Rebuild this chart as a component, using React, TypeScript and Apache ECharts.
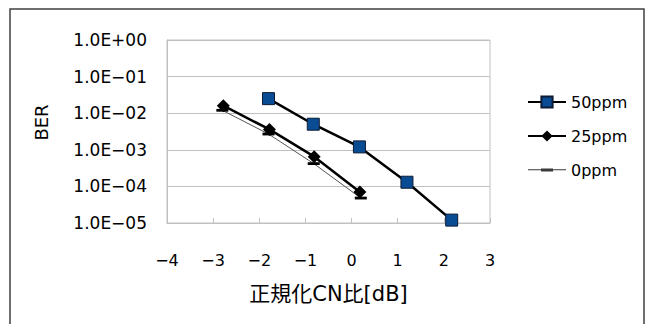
import React, { useEffect, useRef } from "react";
import * as echarts from "echarts";

// Normalized C/N [dB] and BER for each frequency-offset condition
const cn50ppm = [-1.8, -0.83, 0.17, 1.2, 2.17];
const ber50ppm = [2.5e-2, 5.0e-3, 1.2e-3, 1.3e-4, 1.2e-5];

const cn25ppm = [-2.78, -1.78, -0.81, 0.18];
const ber25ppm = [1.6e-2, 3.6e-3, 6.5e-4, 7.0e-5];

const cn0ppm = [-2.8, -1.8, -0.82, 0.2];
const ber0ppm = [1.2e-2, 2.7e-3, 4.2e-4, 4.8e-5];

const seriesNames = ["50ppm", "25ppm", "0ppm"];

const xTickLabels = ["\u22124", "\u22123", "\u22122", "\u22121", "0", "1", "2", "3"];
const yTickLabels = ["1.0E+00", "1.0E\u221201", "1.0E\u221202", "1.0E\u221203", "1.0E\u221204", "1.0E\u221205"];

const xAxisTitle = "正規化CN比[dB]";
const yAxisTitle = "BER";

const FONT = "'DejaVu Sans', 'Noto Sans CJK JP', sans-serif";

// Legend glyph for the dash-marker series: a thin line with a short bar in the middle
const DASH_LEGEND_ICON = "path://M0,6.5H38V7.5H0Z M13,5.8H25V8.6H13Z";

const pairs = (xs: number[], ys: number[]) => xs.map((x, i) => [x, ys[i]]);

export default function App() {
  const ref = useRef<HTMLDivElement>(null);

  useEffect(() => {
    if (!ref.current) return;
    const chart = echarts.init(ref.current, undefined, { renderer: "svg" });
    chart.setOption({
      animation: false,
      backgroundColor: "#ffffff",
      graphic: [
        {
          type: "rect",
          shape: { x: 10, y: 9, width: 634, height: 340 },
          style: { fill: "none", stroke: "#404040", lineWidth: 1.5 },
          silent: true,
        },
      ],
      grid: {
        left: 167,
        right: 160,
        top: 40,
        bottom: 101,
        show: true,
        borderColor: "#c0c0c0",
        borderWidth: 1,
      },
      legend: {
        orient: "vertical",
        left: 522,
        top: 89,
        itemWidth: 38,
        itemHeight: 14,
        itemGap: 18,
        data: [
          { name: seriesNames[0] },
          { name: seriesNames[1] },
          { name: seriesNames[2], icon: DASH_LEGEND_ICON, itemStyle: { color: "#3a3a3a" } },
        ],
        textStyle: { fontFamily: FONT, fontSize: 16, color: "#000", lineHeight: 16 },
      },
      xAxis: {
        type: "value",
        min: -4,
        max: 3,
        interval: 1,
        name: xAxisTitle,
        nameLocation: "middle",
        nameGap: 60,
        nameTextStyle: { fontFamily: FONT, fontSize: 21, color: "#000" },
        axisLine: { show: true, onZero: false, lineStyle: { color: "#c0c0c0", width: 1 } },
        axisTick: { show: true, inside: true, length: 5, lineStyle: { color: "#c0c0c0" } },
        splitLine: { show: false },
        axisLabel: {
          margin: 29,
          fontFamily: FONT,
          fontSize: 16,
          color: "#000",
          formatter: (v: number) => xTickLabels[Math.round(v) + 4],
        },
      },
      yAxis: {
        type: "log",
        logBase: 10,
        min: 1e-5,
        max: 1,
        name: yAxisTitle,
        nameLocation: "middle",
        nameGap: 117,
        nameTextStyle: { fontFamily: FONT, fontSize: 18, color: "#000", padding: [0, 0, 0, 18] },
        axisLine: { show: true, onZero: false, lineStyle: { color: "#c0c0c0", width: 1 } },
        axisTick: { show: false },
        splitLine: { show: true, lineStyle: { color: "#c0c0c0", width: 1 } },
        axisLabel: {
          margin: 20,
          fontFamily: FONT,
          fontSize: 17,
          color: "#000",
          padding: [6, 0, 0, 0],
          formatter: (v: number) => yTickLabels[Math.round(-Math.log10(v))],
        },
      },
      series: [
        {
          name: seriesNames[0],
          type: "line",
          data: pairs(cn50ppm, ber50ppm),
          symbol: "rect",
          symbolSize: 12,
          lineStyle: { color: "#000", width: 2.5 },
          itemStyle: { color: "#0a4c94", borderColor: "#0d1b33", borderWidth: 1 },
          z: 3,
        },
        {
          name: seriesNames[1],
          type: "line",
          data: pairs(cn25ppm, ber25ppm),
          symbol: "diamond",
          symbolSize: 13,
          lineStyle: { color: "#000", width: 2.5 },
          itemStyle: { color: "#000" },
          z: 3,
        },
        {
          name: seriesNames[2],
          type: "line",
          data: pairs(cn0ppm, ber0ppm),
          symbol: "rect",
          symbolSize: [12, 2.8],
          lineStyle: { color: "#555", width: 1 },
          itemStyle: { color: "#000" },
          z: 2,
        },
      ],
    });
    return () => chart.dispose();
  }, []);

  return (
    <div
      ref={ref}
      style={{ position: "absolute", left: 0, top: 0, width: 650, height: 324 }}
    />
  );
}
